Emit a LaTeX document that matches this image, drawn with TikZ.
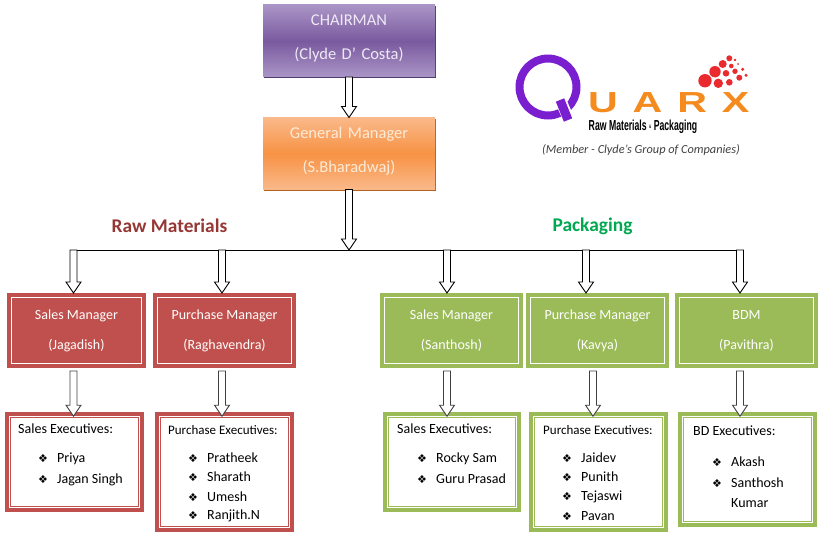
\documentclass[tikz,border=0pt]{standalone}
\usepackage{fontspec}
\setmainfont{Carlito}
\newfontfamily\symfont{DejaVu Sans}
\newfontfamily\quarxfont[LetterSpace=36]{Liberation Sans}
\newfontfamily\logofont{Liberation Sans}
\usetikzlibrary{calc,shadows}
\definecolor{boxred}{HTML}{C0504D}
\definecolor{boxgreen}{HTML}{9BBB59}
\definecolor{headred}{HTML}{953735}
\definecolor{headgreen}{HTML}{00A84F}
\definecolor{qpurple}{HTML}{7A1FD0}
\definecolor{qorange}{HTML}{F58A1F}
\definecolor{qred}{HTML}{EA2A2E}
\definecolor{chairlight}{HTML}{AA95C6}
\definecolor{chairdark}{HTML}{7A5A9F}
\definecolor{chairedge}{HTML}{50396E}
\definecolor{chairtext}{HTML}{EFE9F6}
\definecolor{gmlight}{HTML}{FAB98A}
\definecolor{gmdark}{HTML}{F79244}
\definecolor{gmedge}{HTML}{B5601C}
\definecolor{gmtext}{HTML}{FDEBD8}
\newcommand{\bul}{\makebox[19pt][l]{\symfont\fontsize{11}{11}\selectfont\char"2756}}
\tikzset{
  topbox/.style={rectangle,inner sep=0pt,outer sep=0pt,minimum width=172pt,minimum height=72pt,
    text width=165pt,align=center,font=\fontsize{16.5}{18}\selectfont},
  chairbox/.style={topbox,top color=chairlight,bottom color=chairlight,middle color=chairdark,
    text=chairtext,general shadow={fill=chairedge,shadow xshift=0.5pt,shadow yshift=-1.2pt}},
  gmbox/.style={topbox,top color=gmlight,bottom color=gmlight,middle color=gmdark,
    text=gmtext,general shadow={fill=gmedge,shadow xshift=0.5pt,shadow yshift=-1.2pt}},
  mgrbox/.style={rectangle,inner sep=0pt,outer sep=0pt,minimum height=75pt,align=center,text=white,
    font=\fontsize{14}{16}\selectfont,
    path picture={\draw[white,line width=1.3pt]
      ([shift={(4.3pt,-4.3pt)}]path picture bounding box.north west) rectangle
      ([shift={(-4.3pt,4.3pt)}]path picture bounding box.south east);}},
  execbox/.style={rectangle,inner sep=0pt,outer sep=0pt,line width=4.4pt,fill=white,
    path picture={\draw[#1,line width=0.9pt]
      ([shift={(3.6pt,-3.6pt)}]path picture bounding box.north west) rectangle
      ([shift={(-3.6pt,3.6pt)}]path picture bounding box.south east);},draw=#1},
  exechead/.style={anchor=west,inner sep=0pt,font=\fontsize{14}{16}\selectfont},
  smallhead/.style={anchor=west,inner sep=0pt,font=\fontsize{13}{15}\selectfont},
  execitem/.style={anchor=west,inner sep=0pt,font=\fontsize{14}{16}\selectfont},
  blockarrow/.style={draw=#1,fill=white,line width=0.9pt,
    to path={let \p1=(\tikztostart),\p2=(\tikztotarget) in
      (\x1-3.5pt,\y1) -- (\x1-3.5pt,\y2+11pt) -- (\x1-7.5pt,\y2+11pt) -- (\x1,\y2)
      -- (\x1+7.5pt,\y2+11pt) -- (\x1+3.5pt,\y2+11pt) -- (\x1+3.5pt,\y1) -- cycle}},
  blockarrow/.default=black,
}
\begin{document}
\begin{tikzpicture}[x=1pt,y=-1pt]
  \useasboundingbox (0,0) rectangle (822,535);
  % top of the chart
  \node[chairbox] (chair) at (349,41) {CHAIRMAN\\[16pt](Clyde D’ Costa)\par\vspace{5pt}};
  \node[gmbox] (gm) at (349,153.5) {General Manager\\[16pt](S.Bharadwaj)\par\vspace{5pt}};
  \node[font=\fontsize{19.4}{21}\selectfont\bfseries,text=headred] (rawhead) at (169.5,226) {Raw Materials};
  \node[font=\fontsize{19.4}{21}\selectfont\bfseries,text=headgreen] (packhead) at (592.5,226) {Packaging};
  % managers
  \node[mgrbox,fill=boxred,minimum width=139pt] (jagadish) at (76.5,330.5) {Sales Manager\\[14pt](Jagadish)};
  \node[mgrbox,fill=boxred,minimum width=143pt] (raghu) at (224.5,330.5) {Purchase Manager\\[14pt](Raghavendra)};
  \node[mgrbox,fill=boxgreen,minimum width=143pt] (santhosh) at (451.5,330.5) {Sales Manager\\[14pt](Santhosh)};
  \node[mgrbox,fill=boxgreen,minimum width=143pt] (kavya) at (597.5,330.5) {Purchase Manager\\[14pt](Kavya)};
  \node[mgrbox,fill=boxgreen,minimum width=143pt] (pavithra) at (746.5,330.5) {BDM\\[14pt](Pavithra)};
  % executive boxes
  \node[execbox=boxred,minimum width=134.6pt,minimum height=95.6pt] (salesred) at (74.5,462) {};
  \node[execbox=boxred,minimum width=134.6pt,minimum height=115.6pt] (purchred) at (224.5,472) {};
  \node[execbox=boxgreen,minimum width=133.6pt,minimum height=95.6pt] (salesgreen) at (452,462) {};
  \node[execbox=boxgreen,minimum width=134.6pt,minimum height=115.6pt] (purchgreen) at (598.5,472) {};
  \node[execbox=boxgreen,minimum width=134.6pt,minimum height=110.6pt] (bdgreen) at (747.5,469.5) {};
  % bus and arrows
  \coordinate (busleft) at (73.5,250);
  \coordinate (busmid) at (349,250);
  \coordinate (raghubus) at (222,250);
  \coordinate (santhbus) at (447,250);
  \coordinate (kavyabus) at (586,250);
  \coordinate (busright) at (740,250);
  \draw[line width=0.9pt] (busleft) -- (busright);
  \draw[blockarrow] (chair.south) to (gm.north);
  \draw[blockarrow] (gm.south) to (busmid);
  \draw[blockarrow] (busleft) to (jagadish.north);
  \draw[blockarrow] (raghubus) to (raghu.north);
  \draw[blockarrow] (santhbus) to (santhosh.north);
  \draw[blockarrow] (kavyabus) to (kavya.north);
  \draw[blockarrow] (busright) to (pavithra.north);
  \draw[blockarrow=black!75] ([xshift=-3pt,yshift=-3pt]jagadish.south) to ([yshift=-2pt]salesred.north);
  \draw[blockarrow=black!75] ([xshift=-2.5pt,yshift=-3pt]raghu.south) to ([yshift=-2pt]purchred.north);
  \draw[blockarrow=black!75] ([xshift=-4.5pt,yshift=-3pt]santhosh.south) to ([yshift=-2pt]salesgreen.north);
  \draw[blockarrow=black!75] ([xshift=-4.5pt,yshift=-3pt]kavya.south) to ([yshift=-2pt]purchgreen.north);
  \draw[blockarrow=black!75] ([xshift=-6.5pt,yshift=-3pt]pavithra.south) to ([yshift=-2pt]bdgreen.north);
  % executives, raw materials
  \node[exechead] (salesredhead) at (18,429) {Sales Executives:};
  \node[execitem] (priya) at (38,459) {\bul Priya};
  \node[execitem] (jagan) at (38,480) {\bul Jagan Singh};
  \node[smallhead] (purchredhead) at (168,430) {Purchase Executives:};
  \node[execitem] (pratheek) at (188,458) {\bul Pratheek};
  \node[execitem] (sharath) at (188,477) {\bul Sharath};
  \node[execitem] (umesh) at (188,497) {\bul Umesh};
  \node[execitem] (ranjith) at (188,516) {\bul Ranjith.N};
  % executives, packaging
  \node[exechead] (salesgreenhead) at (397,429) {Sales Executives:};
  \node[execitem] (rocky) at (417,459) {\bul Rocky Sam};
  \node[execitem] (guru) at (417,479) {\bul Guru Prasad};
  \node[smallhead] (purchgreenhead) at (543,430) {Purchase Executives:};
  \node[execitem] (jaidev) at (562,458) {\bul Jaidev};
  \node[execitem] (punith) at (562,477) {\bul Punith};
  \node[execitem] (tejaswi) at (562,497) {\bul Tejaswi};
  \node[execitem] (pavan) at (562,516) {\bul Pavan};
  \node[exechead] (bdhead) at (693,431) {BD Executives:};
  \node[execitem] (akash) at (712,462) {\bul Akash};
  \node[execitem] (santhkumar) at (712,483) {\bul Santhosh};
  \node[execitem] (kumar) at (731,503) {Kumar};
  % logo
  \draw[qpurple,line width=8pt] (548,87) circle (28.5);
  \draw[white,line width=11.5pt] (559,97) -- (570,122);
  \draw[qpurple,line width=9pt] (560,100) -- (568,120);
  \node[inner sep=0pt,anchor=west,text=qorange] (quarx) at (588,103) {\scalebox{1.42}[1]{\quarxfont\bfseries\fontsize{29}{29}\selectfont UARX}};
  \fill[qred] (705,80.7) circle (6.7);
  \fill[qred] (715,71.7) circle (5.7);
  \fill[qred] (718.3,83.3) circle (4.7);
  \fill[qred] (722.7,64) circle (4);
  \fill[qred] (729.3,58.3) circle (3);
  \fill[qred] (726,73.3) circle (3.3);
  \fill[qred] (729.3,82.3) circle (3.3);
  \fill[qred] (731.3,66) circle (2.3);
  \fill[qred] (735,71.3) circle (2.7);
  \fill[qred] (739.3,77.7) circle (3);
  \fill[qred] (742.7,69.3) circle (1.7);
  \fill[qred] (746,75.3) circle (1.7);
  \fill[qred] (735,60) circle (1.3);
  \fill[qred] (738,64) circle (1);
  \node[inner sep=0pt,text=black] (quarxsub) at (643,127) {\scalebox{0.6}[1]{\logofont\bfseries\fontsize{14.5}{15}\selectfont Raw Materials {\fontsize{5}{5}\selectfont\raisebox{2pt}{\&}} Packaging}};
  \node[inner sep=0pt,text=black!75] (member) at (641,150) {\fontsize{12.3}{14}\selectfont\itshape (Member - Clyde’s Group of Companies)};
\end{tikzpicture}
\end{document}
